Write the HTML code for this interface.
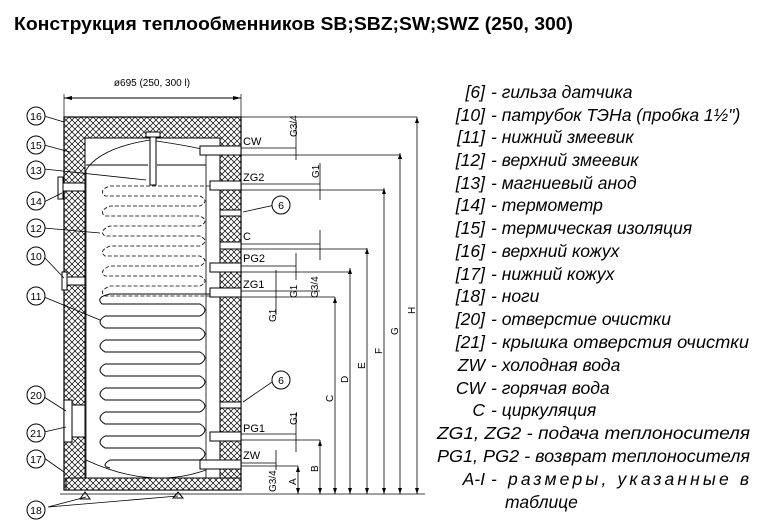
<!DOCTYPE html>
<html><head><meta charset="utf-8"><style>
body{margin:0;background:#fff;width:764px;height:528px;overflow:hidden}
svg{display:block}
.t{font-family:"Liberation Sans",sans-serif;font-style:italic;font-size:17.5px;fill:#000}
.s{font-family:"Liberation Sans",sans-serif;font-size:10px;fill:#000}
.c{fill:#fff;stroke:#000;stroke-width:1}
</style></head><body>
<svg width="764" height="528" viewBox="0 0 764 528" xmlns="http://www.w3.org/2000/svg">
<defs>
<pattern id="h" width="6" height="6" patternUnits="userSpaceOnUse">
<rect width="6" height="6" fill="#fff"/>
<path d="M0 0L6 6M6 0L0 6" stroke="#000" stroke-width="0.7"/>
</pattern>
</defs>
<text x="14" y="30" font-family="Liberation Sans,sans-serif" font-weight="bold" font-size="18" textLength="559" lengthAdjust="spacingAndGlyphs">Конструкция теплообменников SB;SBZ;SW;SWZ (250, 300)</text>

<text x="152" y="86" class="s" text-anchor="middle">ø695 (250, 300 l)</text>
<line x1="64" y1="98" x2="241" y2="98" stroke="#000"/>
<path d="M64 98l8-2v4zM241 98l-8-2v4z"/>
<line x1="64" y1="94" x2="64" y2="117" stroke="#000" stroke-width=".7"/>
<line x1="241" y1="94" x2="241" y2="117" stroke="#000" stroke-width=".7"/>

<rect x="64" y="117" width="177" height="373" fill="url(#h)" stroke="#000" stroke-width="1.2"/>
<path d="M85 138H220V478H85Z" fill="#fff" stroke="#000"/>
<path d="M86 170Q100 148 150 140Q190 146 206 150V478H86Z" fill="#fff" stroke="#000" stroke-width=".8"/>
<path d="M86 460Q150 490 206 470" fill="none" stroke="#000" stroke-width=".8"/>
<rect x="66" y="478" width="175" height="12" fill="url(#h)" stroke="#000"/>
<rect x="146" y="132" width="14" height="5" class="c"/>
<rect x="150" y="137" width="6" height="48" class="c"/>
<line x1="86" y1="165" x2="148" y2="165" stroke="#000"/>
<line x1="157" y1="165" x2="206" y2="165" stroke="#000"/>
<g fill="none" stroke="#000" stroke-width=".8" stroke-dasharray="4 2">
<path d="M210 186H110Q98 190 105 196H200Q210 201 200 206H110Q98 211 105 216H200Q210 221 200 226H110Q98 231 105 236H200Q210 241 200 246H110Q98 251 105 256H200Q210 261 200 266H110Q98 271 105 276H200Q210 281 200 286H110Q98 291 105 296H210"/>
</g>
<g fill="none" stroke="#000" stroke-width="1">
<path d="M212 294H110Q95 297 102 304H200Q210 310 200 316H105Q95 322 105 328H200Q210 334 200 340H105Q95 346 105 352H200Q210 358 200 364H105Q95 370 105 376H200Q210 382 200 388H105Q95 394 105 400H200Q210 406 200 412H105Q95 418 105 424H200Q210 430 200 436H105Q95 442 105 448H200Q210 454 200 460H110Q100 466 110 468"/>
</g>
<rect x="58" y="177" width="5" height="22" fill="#fff" stroke="#000"/>
<rect x="63" y="183" width="22" height="8" class="c"/>
<rect x="62" y="272" width="5" height="18" fill="#fff" stroke="#000"/>
<rect x="67" y="277" width="18" height="8" class="c"/>
<rect x="64" y="400" width="8" height="42" fill="#fff" stroke="#000"/>
<rect x="72" y="405" width="13" height="32" class="c"/>
<g fill="#fff" stroke="#000">
<rect x="200" y="146" width="41" height="9"/>
<rect x="210" y="181" width="31" height="9"/>
<rect x="220" y="210" width="21" height="6"/>
<rect x="220" y="242" width="21" height="7"/>
<rect x="210" y="263" width="31" height="9"/>
<rect x="210" y="288" width="31" height="9"/>
<rect x="220" y="402" width="21" height="6"/>
<rect x="210" y="432" width="31" height="9"/>
<rect x="200" y="460" width="41" height="9"/>
</g>
<path d="M85 492l5 7h-10z M178 492l5 6h-10z" fill="#fff" stroke="#000"/>
<line x1="60" y1="494" x2="425" y2="494" stroke="#000" stroke-width=".8"/>

<g font-family="Liberation Sans,sans-serif" font-size="11">
<text x="243" y="145">CW</text><text x="243" y="181">ZG2</text><text x="243" y="240">C</text>
<text x="243" y="262">PG2</text><text x="243" y="288">ZG1</text><text x="243" y="432">PG1</text><text x="243" y="459">ZW</text>
</g>
<g font-family="Liberation Sans,sans-serif" font-size="10">
<text transform="translate(297,137) rotate(-90)">G3/4</text>
<text transform="translate(319,178) rotate(-90)">G1</text>
<text transform="translate(297,298) rotate(-90)">G1</text>
<text transform="translate(318,298) rotate(-90)">G3/4</text>
<text transform="translate(276,322) rotate(-90)">G1</text>
<text transform="translate(297,425) rotate(-90)">G1</text>
<text transform="translate(276,492) rotate(-90)">G3/4</text>
</g>
<g stroke="#000" stroke-width=".8" fill="none">
<path d="M241 148H296M241 155H400M296 120V160"/>
<path d="M241 184H320M241 190H384M320 163V200"/>
<path d="M241 244H320M241 249H367M320 230V260"/>
<path d="M241 266H296M241 272H350M296 253V280"/>
<path d="M241 291H320M241 297H335M276 270V315"/>
<path d="M241 434H296M241 440H320M296 413V452"/>
<path d="M241 463H276M241 466H298M276 450V470"/>
</g>
<g stroke="#000" stroke-width=".8">
<line x1="298" y1="466" x2="298" y2="494"/><line x1="320" y1="440" x2="320" y2="494"/>
<line x1="335" y1="297" x2="335" y2="494"/><line x1="350" y1="268" x2="350" y2="494"/>
<line x1="367" y1="248" x2="367" y2="494"/><line x1="384" y1="188" x2="384" y2="494"/>
<line x1="400" y1="153" x2="400" y2="494"/><line x1="417" y1="117" x2="417" y2="494"/>
<line x1="241" y1="117" x2="417" y2="117"/>
</g>
<g>
<path d="M298 466l-2 6h4zM320 440l-2 6h4zM335 297l-2 6h4zM350 268l-2 6h4zM367 248l-2 6h4zM384 188l-2 6h4zM400 153l-2 6h4zM417 117l-2 6h4z"/>
<path d="M298 494l-2-6h4zM320 494l-2-6h4zM335 494l-2-6h4zM350 494l-2-6h4zM367 494l-2-6h4zM384 494l-2-6h4zM400 494l-2-6h4zM417 494l-2-6h4z"/>
</g>
<g font-family="Liberation Sans,sans-serif" font-size="10">
<text transform="translate(296,485) rotate(-90)">A</text>
<text transform="translate(318,472) rotate(-90)">B</text>
<text transform="translate(333,402) rotate(-90)">C</text>
<text transform="translate(348,383) rotate(-90)">D</text>
<text transform="translate(365,369) rotate(-90)">E</text>
<text transform="translate(382,354) rotate(-90)">F</text>
<text transform="translate(398,335) rotate(-90)">G</text>
<text transform="translate(415,314) rotate(-90)">H</text>
</g>

<g stroke="#000" stroke-width=".8" fill="none">
<path d="M44 116L64 122M44 145L70 152M44 169L146 180M44 202L62 193M44 228L100 233M44 257L64 278M44 297L100 320M44 397L66 411M44 432L66 427M44 458L64 472M48 507L86 497M48 507L178 496M275 205L243 212M275 380L243 402"/>
</g>
<g font-family="Liberation Sans,sans-serif" font-size="10.5" text-anchor="middle">
<circle cx="36" cy="116" r="9" class="c"/><text x="36" y="120">16</text>
<circle cx="36" cy="145" r="9" class="c"/><text x="36" y="149">15</text>
<circle cx="36" cy="170" r="9" class="c"/><text x="36" y="174">13</text>
<circle cx="36" cy="201" r="9" class="c"/><text x="36" y="205">14</text>
<circle cx="36" cy="228" r="9" class="c"/><text x="36" y="232">12</text>
<circle cx="36" cy="256" r="9" class="c"/><text x="36" y="260">10</text>
<circle cx="36" cy="296" r="9" class="c"/><text x="36" y="300">11</text>
<circle cx="36" cy="395" r="9" class="c"/><text x="36" y="399">20</text>
<circle cx="36" cy="433" r="9" class="c"/><text x="36" y="437">21</text>
<circle cx="36" cy="459" r="9" class="c"/><text x="36" y="463">17</text>
<circle cx="36" cy="510" r="9" class="c"/><text x="36" y="514">18</text>
<circle cx="281" cy="205" r="9" class="c"/><text x="281" y="209">6</text>
<circle cx="281" cy="380" r="9" class="c"/><text x="281" y="384">6</text>
</g>

<g class="t">
<text x="485" y="98" text-anchor="end">[6]</text><text x="491" y="98">- гильза датчика</text>
<text x="485" y="121" text-anchor="end">[10]</text><text x="491" y="121">- патрубок ТЭНа (пробка 1½")</text>
<text x="485" y="143" text-anchor="end">[11]</text><text x="491" y="143">- нижний змеевик</text>
<text x="485" y="166" text-anchor="end">[12]</text><text x="491" y="166">- верхний змеевик</text>
<text x="485" y="189" text-anchor="end">[13]</text><text x="491" y="189">- магниевый анод</text>
<text x="485" y="211" text-anchor="end">[14]</text><text x="491" y="211">- термометр</text>
<text x="485" y="234" text-anchor="end">[15]</text><text x="491" y="234">- термическая изоляция</text>
<text x="485" y="257" text-anchor="end">[16]</text><text x="491" y="257">- верхний кожух</text>
<text x="485" y="280" text-anchor="end">[17]</text><text x="491" y="280">- нижний кожух</text>
<text x="485" y="302" text-anchor="end">[18]</text><text x="491" y="302">- ноги</text>
<text x="485" y="325" text-anchor="end">[20]</text><text x="491" y="325">- отверстие очистки</text>
<text x="485" y="348" text-anchor="end">[21]</text><text x="491" y="348" textLength="258" lengthAdjust="spacingAndGlyphs">- крышка отверстия очистки</text>
<text x="485" y="371" text-anchor="end">ZW</text><text x="491" y="371">- холодная вода</text>
<text x="485" y="394" text-anchor="end">CW</text><text x="491" y="394">- горячая вода</text>
<text x="485" y="416" text-anchor="end">C</text><text x="491" y="416">- циркуляция</text>
<text x="437" y="439" textLength="313" lengthAdjust="spacingAndGlyphs">ZG1, ZG2 - подача теплоносителя</text>
<text x="437" y="462" textLength="313" lengthAdjust="spacingAndGlyphs">PG1, PG2 - возврат теплоносителя</text>
<text x="485" y="485" text-anchor="end">A-I</text><text x="491" y="485" textLength="258">- размеры, указанные в</text>
<text x="505" y="508">таблице</text>
</g>
</svg>
</body></html>
